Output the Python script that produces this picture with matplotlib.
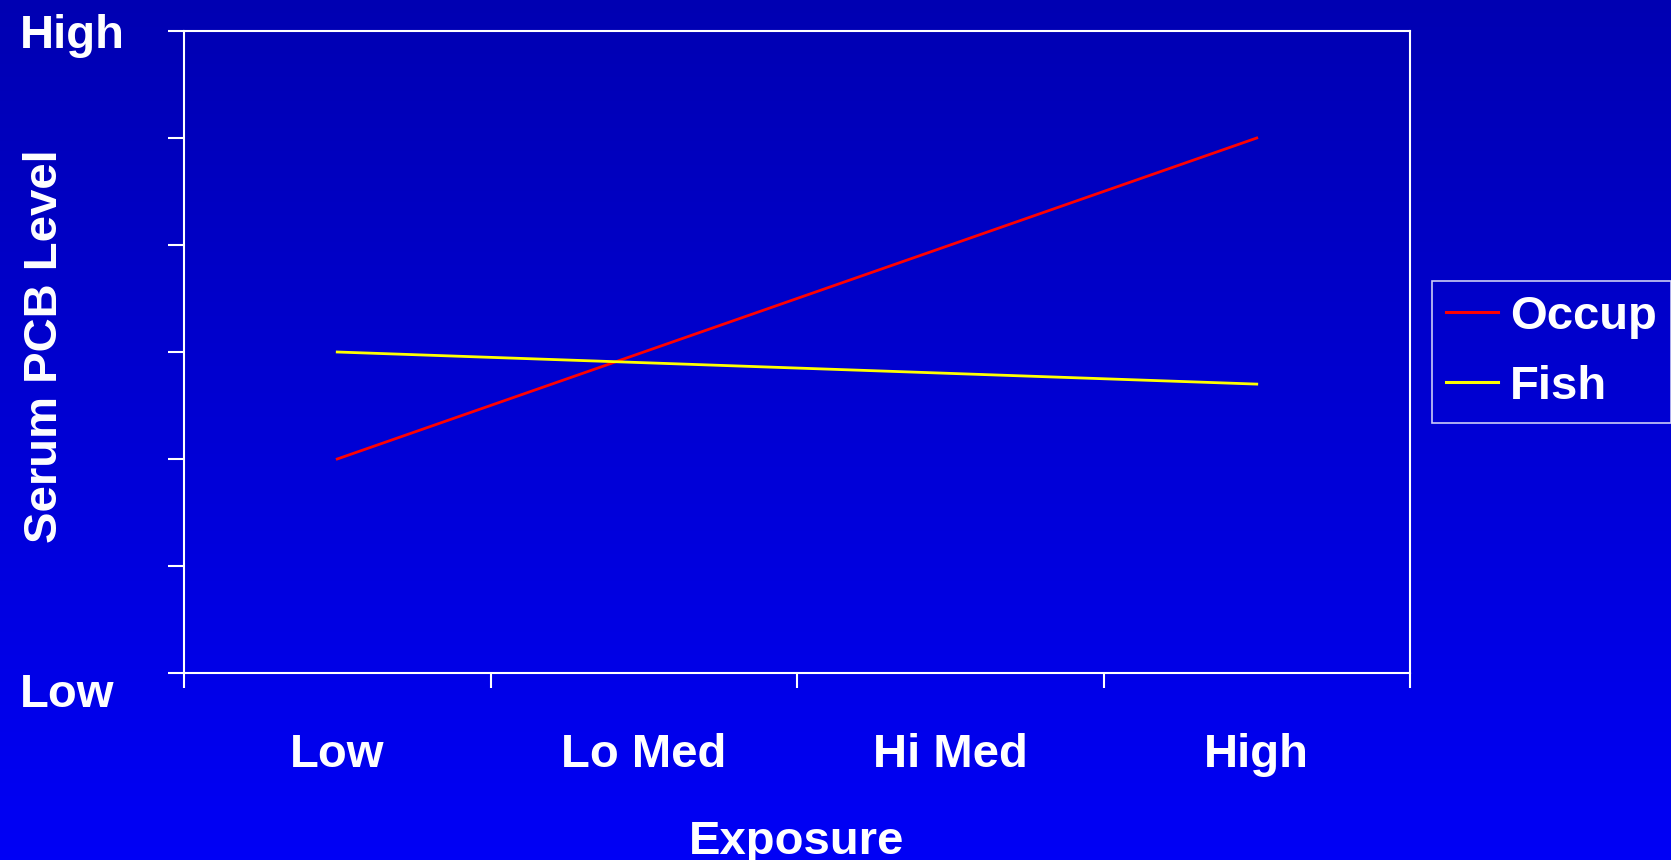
import matplotlib.pyplot as plt
import matplotlib.transforms as mtransforms
from matplotlib.colors import LinearSegmentedColormap
import numpy as np

# exposure groups and serum level trends (relative units, 0 = Low, 6 = High)
categories = ['Low', 'Lo Med', 'Hi Med', 'High']
occup = [2.0, 3.0, 4.0, 5.0]
fish = [3.0, 2.9, 2.8, 2.7]
y_labels = ['Low', '', '', '', '', '', 'High']

plt.rcParams['font.family'] = ['Liberation Sans', 'DejaVu Sans']
plt.rcParams['font.weight'] = 'bold'

fig = plt.figure(figsize=(16.71, 8.6), dpi=100)

# vertical blue gradient behind everything
bg = fig.add_axes([0, 0, 1, 1], zorder=-1)
cmap = LinearSegmentedColormap.from_list('slide', ['#0000F6', '#0000B2'])
grad = np.linspace(0, 1, 256).reshape(-1, 1)
bg.imshow(grad, aspect='auto', cmap=cmap, origin='lower', extent=[0, 1, 0, 1])
bg.axis('off')

ax = fig.add_axes([184 / 1671, 1 - 673 / 860, (1410 - 184) / 1671, (673 - 31) / 860])
ax.patch.set_alpha(0)

x = np.arange(len(categories))
ax.plot(x, occup, color='#FF0000', lw=2, label='Occup')
ax.plot(x, fish, color='#FFFF00', lw=2, label='Fish')

ax.set_xlim(-0.5, len(categories) - 0.5)
ax.set_ylim(0, 6)

for s in ax.spines.values():
    s.set_color('white')
    s.set_linewidth(1.5)

# category labels at centres, tick marks at the boundaries
ax.set_xticks(x)
ax.set_xticklabels(categories, fontsize=34, fontweight='bold', color='white')
ax.tick_params(axis='x', which='major', length=0, pad=43)
ax.set_xticks(np.arange(len(categories) + 1) - 0.5, minor=True)
ax.tick_params(axis='x', which='minor', length=11, width=1.5, color='white', direction='out')

ax.set_yticks(range(7))
ax.set_yticklabels(y_labels, fontsize=34, fontweight='bold', color='white', ha='left')
ax.tick_params(axis='y', length=11.5, width=1.5, color='white', direction='out', pad=107)
low_lbl = ax.get_yticklabels()[0]
low_lbl.set_transform(low_lbl.get_transform() +
                      mtransforms.ScaledTranslation(0, -12 / 72, fig.dpi_scale_trans))

ax.set_xlabel('Exposure', fontsize=34, fontweight='bold', color='white', labelpad=31)
fig.text(45 / 1671, 1 - 346 / 860, 'Serum PCB Level', rotation=90, fontsize=34,
         fontweight='bold', color='white', ha='center', va='center')

leg = fig.legend(loc='center left', bbox_to_anchor=(1432 / 1671, 1 - 352 / 860),
                 fontsize=34, frameon=True, fancybox=False, handlelength=1.1,
                 handletextpad=0.25, borderpad=0.3, labelspacing=0.55,
                 borderaxespad=0)
leg.get_frame().set_facecolor('none')
leg.get_frame().set_edgecolor('white')
leg.get_frame().set_linewidth(1.2)
for t in leg.get_texts():
    t.set_color('white')
    t.set_fontweight('bold')
for h in leg.get_lines():
    h.set_linewidth(2.2)

fig.savefig('out.png', dpi=100)
